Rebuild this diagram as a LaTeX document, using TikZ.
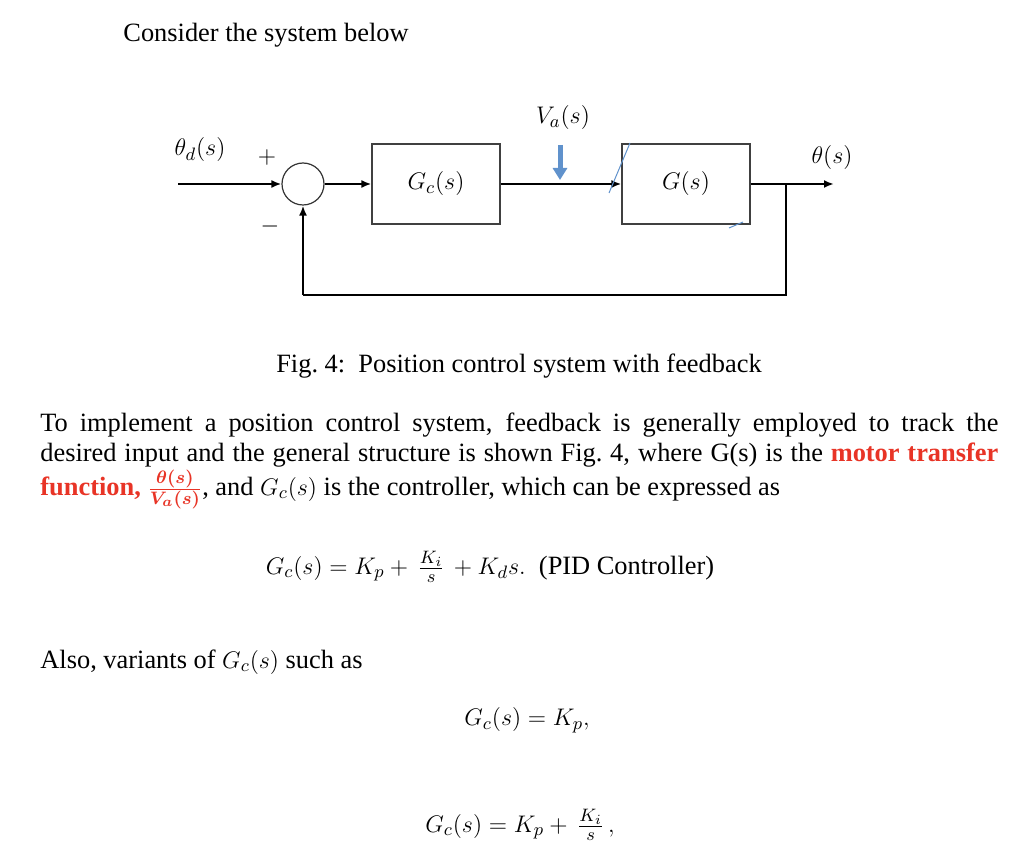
\documentclass[tikz,border=0pt]{standalone}
\usetikzlibrary{arrows.meta}
\usepackage{amsmath}
\usepackage{bm}
\usepackage{fontspec}
\setmainfont{Liberation Serif}
\definecolor{myred}{RGB}{232,52,38}
\definecolor{myblue}{RGB}{96,146,204}
\begin{document}
\begin{tikzpicture}[x=0.5pt,y=-0.5pt,
  blk/.style={draw=black!75,line width=0.6pt,minimum width=64pt,minimum height=40pt,inner sep=0pt,font=\fontsize{13}{15}\selectfont},
  sig/.style={line width=1.4pt,-{Latex[length=5pt,width=4pt]}},
  txt/.style={font=\fontsize{13.2}{15}\selectfont,inner sep=0pt},
  lbl/.style={font=\fontsize{13}{15}\selectfont,inner sep=1pt}]
\useasboundingbox (0,0) rectangle (1024,861);
\node[txt,anchor=west] (t0) at (123,35) {Consider the system below};
% block diagram
\node[circle,draw=black!80,line width=0.6pt,minimum size=21pt,inner sep=0pt] (sum) at (303,184) {};
\node[blk] (gc) at (436,184) {$G_c(s)$};
\node[blk] (g) at (686,184) {$G(s)$};
\coordinate (in) at (178,184);
\coordinate (out) at (834,184);
\coordinate (br) at (786,184);
\coordinate (bd) at (786,295);
\coordinate (bl) at (sum.south |- bd);
\node[lbl] (thd) at (200,150) {$\theta_d(s)$};
\node[lbl] (plus) at (267,158) {$+$};
\node[lbl] (minus) at (270,227) {$-$};
\node[lbl] (va) at (563,118) {$V_a(s)$};
\node[lbl] (th) at (832,158) {$\theta(s)$};
\draw[sig] (in) -- (sum.west);
\draw[sig] (sum.east) -- (gc.west);
\draw[sig] (gc.east) -- (g.west);
\draw[line width=1.4pt] (g.east) -- (br);
\draw[sig] (br) -- (out);
\draw[line width=1.4pt] (br) -- (bd) -- (bl);
\draw[sig] (bl) -- (sum.south);
\coordinate (va1) at (560,145);
\coordinate (va2) at (560,180);
\draw[myblue,line width=2.5pt,-{Triangle[length=6pt,width=7pt]}] (va1) -- (va2);
\draw[myblue,line width=0.5pt] (609,193) -- (630,143);
\draw[myblue,line width=0.5pt] (729,228) -- (743,222);
% caption
\node[txt] (cap) at (519,366) {Fig.~4:\ \ Position control system with feedback};
% paragraph
\node[txt,anchor=north west,text width=479pt,align=justify] (par) at (40,413) {%
\baselineskip=15pt
To implement a position control system, feedback is generally employed to track the\linebreak
desired input and the general structure is shown Fig.~4, where G(s) is the \textcolor{myred}{\textbf{motor transfer}}\linebreak
\textcolor{myred}{\textbf{function, $\bm{\frac{\theta(s)}{V_a(s)}}$}}, and $G_c(s)$ is the controller, which can be expressed as};
\node[txt] (eq1) at (490,567) {$G_c(s)=K_p+\,\frac{K_i}{s}\,+K_ds.$\ \ (PID Controller)};
\node[txt,anchor=west] (also) at (40,662) {Also, variants of $G_c(s)$ such as};
\node[txt] (eq2) at (527,720) {$G_c(s)=K_p,$};
\node[txt] (eq3) at (520,825) {$G_c(s)=K_p+\,\frac{K_i}{s}\,,$};
\end{tikzpicture}
\end{document}
